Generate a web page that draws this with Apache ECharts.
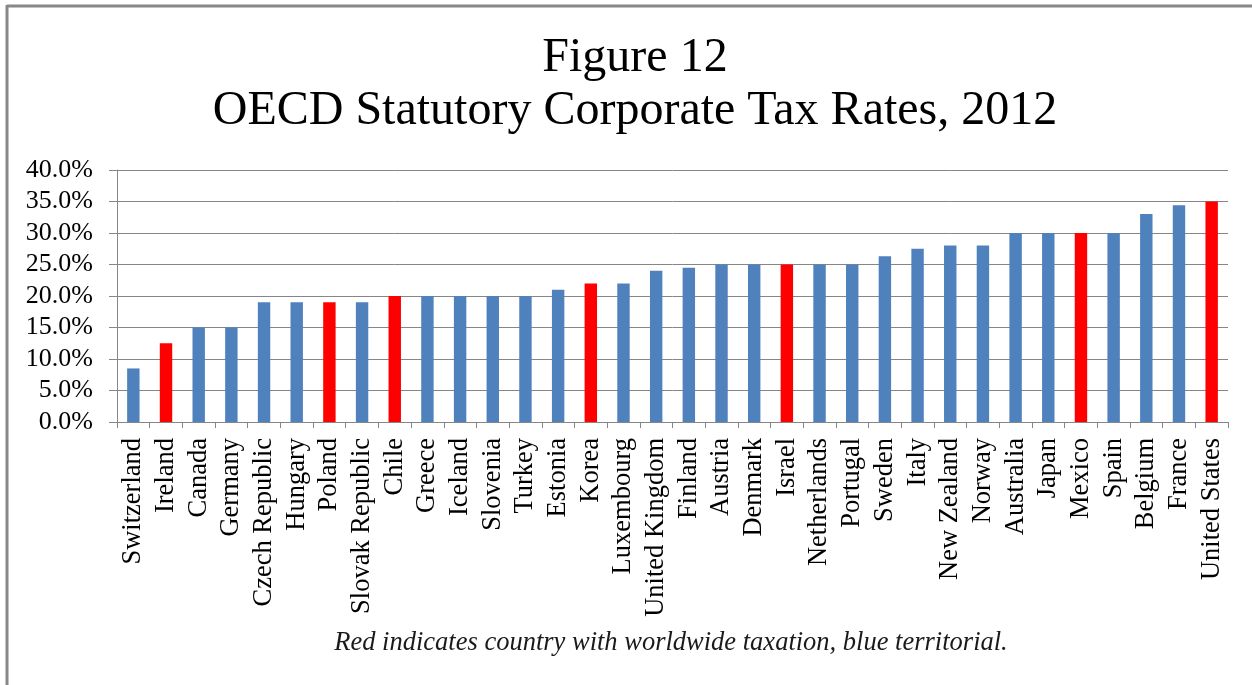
<!DOCTYPE html>
<html>
<head>
<meta charset="utf-8">
<script src="https://cdn.jsdelivr.net/npm/echarts@6/dist/echarts.min.js"></script>
<style>
html,body{margin:0;padding:0;background:#fff;}
#chart{width:1252px;height:685px;}
</style>
</head>
<body>
<div id="chart"></div>
<script>
const countries = ["Switzerland","Ireland","Canada","Germany","Czech Republic","Hungary","Poland","Slovak Republic","Chile","Greece","Iceland","Slovenia","Turkey","Estonia","Korea","Luxembourg","United Kingdom","Finland","Austria","Denmark","Israel","Netherlands","Portugal","Sweden","Italy","New Zealand","Norway","Australia","Japan","Mexico","Spain","Belgium","France","United States"];
const taxRates = [8.5,12.5,15,15,19,19,19,19,20,20,20,20,20,21,22,22,24,24.5,25,25,25,25,25,26.3,27.5,28,28,30,30,30,30,33,34.4,35];
const worldwide = ["Ireland","Poland","Chile","Korea","Israel","Mexico","United States"];
const yTicks = {min: 0, max: 40, interval: 5};
const titleText = "Figure 12\nOECD Statutory Corporate Tax Rates, 2012";
const captionText = "Red indicates country with worldwide taxation, blue territorial.";

const serif = '"Liberation Serif","Times New Roman",serif';
const chart = echarts.init(document.getElementById('chart'), null, {renderer: 'canvas'});
chart.setOption({
  animation: false,
  backgroundColor: '#fff',
  title: {
    text: titleText,
    left: 630,
    textAlign: 'center',
    top: 27,
    textStyle: {fontFamily: serif, fontSize: 48, fontWeight: 'normal', color: '#000', lineHeight: 53}
  },
  grid: {left: 117, right: 24, top: 170, bottom: 263, containLabel: false},
  xAxis: {
    type: 'category',
    data: countries,
    axisLine: {lineStyle: {color: '#868686', width: 1}},
    axisTick: {show: true, length: 6, alignWithLabel: false, lineStyle: {color: '#868686'}},
    axisLabel: {rotate: 90, interval: 0, fontFamily: serif, fontSize: 26.5, color: '#000', margin: 16}
  },
  yAxis: {
    type: 'value',
    min: yTicks.min, max: yTicks.max, interval: yTicks.interval,
    axisLine: {show: true, lineStyle: {color: '#868686', width: 1}},
    axisTick: {show: true, length: 8, lineStyle: {color: '#868686'}},
    splitLine: {lineStyle: {color: '#868686', width: 1}},
    axisLabel: {fontFamily: serif, fontSize: 26, color: '#000', margin: 24,
      formatter: v => v.toFixed(1) + '%'}
  },
  series: [{
    type: 'bar',
    barWidth: '38%',
    data: taxRates.map((v, i) => ({
      value: v,
      itemStyle: {color: worldwide.includes(countries[i]) ? '#FF0000' : '#4F81BD'}
    }))
  }],
  graphic: [
    {type: 'line', shape: {x1: 7, y1: 6, x2: 1252, y2: 6}, style: {stroke: '#888', lineWidth: 3}},
    {type: 'line', shape: {x1: 7, y1: 5, x2: 7, y2: 685}, style: {stroke: '#888', lineWidth: 3}},
    {type: 'text', x: 671, y: 643, style: {text: captionText, fontFamily: serif, fontStyle: 'italic', fontSize: 26.5, fill: '#1a1a1a', align: 'center', verticalAlign: 'middle'}}
  ]
});
</script>
</body>
</html>
